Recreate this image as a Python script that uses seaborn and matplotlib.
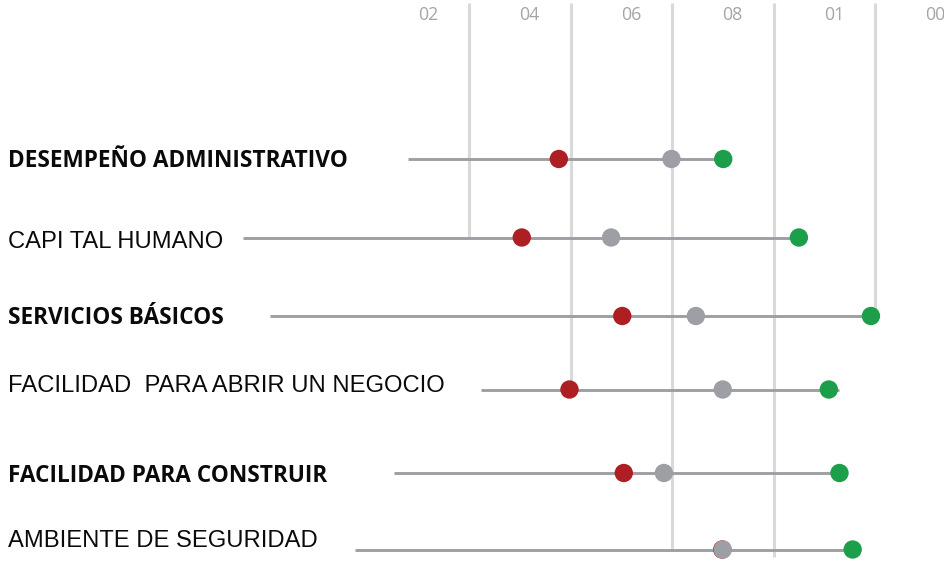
import matplotlib
matplotlib.use("Agg")
import matplotlib.pyplot as plt
import seaborn as sns
import pandas as pd

# Indicator names (bold rows alternate with regular rows)
categories = [
    "DESEMPEÑO ADMINISTRATIVO",
    "CAPI TAL HUMANO",
    "SERVICIOS BÁSICOS",
    "FACILIDAD  PARA ABRIR UN NEGOCIO",
    "FACILIDAD PARA CONSTRUIR",
    "AMBIENTE DE SEGURIDAD",
]
bold_rows = [True, False, True, False, True, False]

# Scores per indicator: lowest, middle and highest
low_values = [37.7, 30.4, 50.2, 39.8, 50.5, 69.9]
mid_values = [59.9, 48.0, 64.7, 70.0, 58.4, 70.0]
high_values = [70.1, 85.0, 99.2, 90.9, 93.0, 95.6]

# Where each row's connecting line starts and ends
line_start = [8.0, -24.5, -19.2, 22.4, 5.2, -2.5]
line_end = [70.1, 85.0, 99.2, 92.9, 93.0, 95.6]

# Reference gridlines and their top-axis labels
grid_values = [20, 40, 60, 80, 100]
tick_labels = ["02", "04", "06", "08", "01", "00"]
tick_values = [20, 40, 60, 80, 100, 120]

# Layout (pixel rows on a 944x572 canvas)
W, H = 944, 572
x0_px, px_per_unit = 367.5, 5.075
row_y = [159, 237.5, 316, 389.5, 473, 549.5]
label_baseline = [167, 248, 323.5, 391.5, 481.5, 547]
grid_bottom = [237.5, 389.5, 549.5, 557, 316]

RED, GREY, GREEN = "#ae1f24", "#9d9fa4", "#1c9e4a"

sns.set_theme(style="white")
plt.rcParams["font.family"] = ["Open Sans", "DejaVu Sans"]

fig = plt.figure(figsize=(W / 100, H / 100), dpi=100)
ax = fig.add_axes([0, 0, 1, 1])
ax.set_xlim(-x0_px / px_per_unit, (W - x0_px) / px_per_unit)
ax.set_ylim(H, 0)
ax.axis("off")

# vertical gridlines
for gv, gb in zip(grid_values, grid_bottom):
    ax.vlines(gv, 3, gb, color="#d9d9d9", lw=2.2, zorder=1)

# top labels
for tv, tl in zip(tick_values, tick_labels):
    ax.text(tv - 8.1, 15, tl, ha="center", va="center", fontsize=12.8,
            color="#a3a5a8", family=["Open Sans", "DejaVu Sans"])

# connecting lines
ax.hlines(row_y, line_start, line_end, color=GREY, lw=2.1, zorder=2)

# dots
df = pd.DataFrame({
    "value": low_values + mid_values + high_values,
    "y": row_y * 3,
    "serie": ["low"] * 6 + ["mid"] * 6 + ["high"] * 6,
})
sns.scatterplot(data=df, x="value", y="y", hue="serie",
                palette={"low": RED, "mid": GREY, "high": GREEN},
                s=175, linewidth=0, ax=ax, legend=False, zorder=3)

# row labels
left = -x0_px / px_per_unit + 8 / px_per_unit
for name, bold, by in zip(categories, bold_rows, label_baseline):
    if bold:
        ax.text(left, by, name, ha="left", va="baseline", fontsize=16.3,
                fontweight="bold", color="#0a0a0a",
                family=["Open Sans", "DejaVu Sans"])
    else:
        ax.text(left, by, name, ha="left", va="baseline", fontsize=17.1,
                color="#0a0a0a", family=["Liberation Sans", "DejaVu Sans"])

fig.savefig("out.png", dpi=100)
